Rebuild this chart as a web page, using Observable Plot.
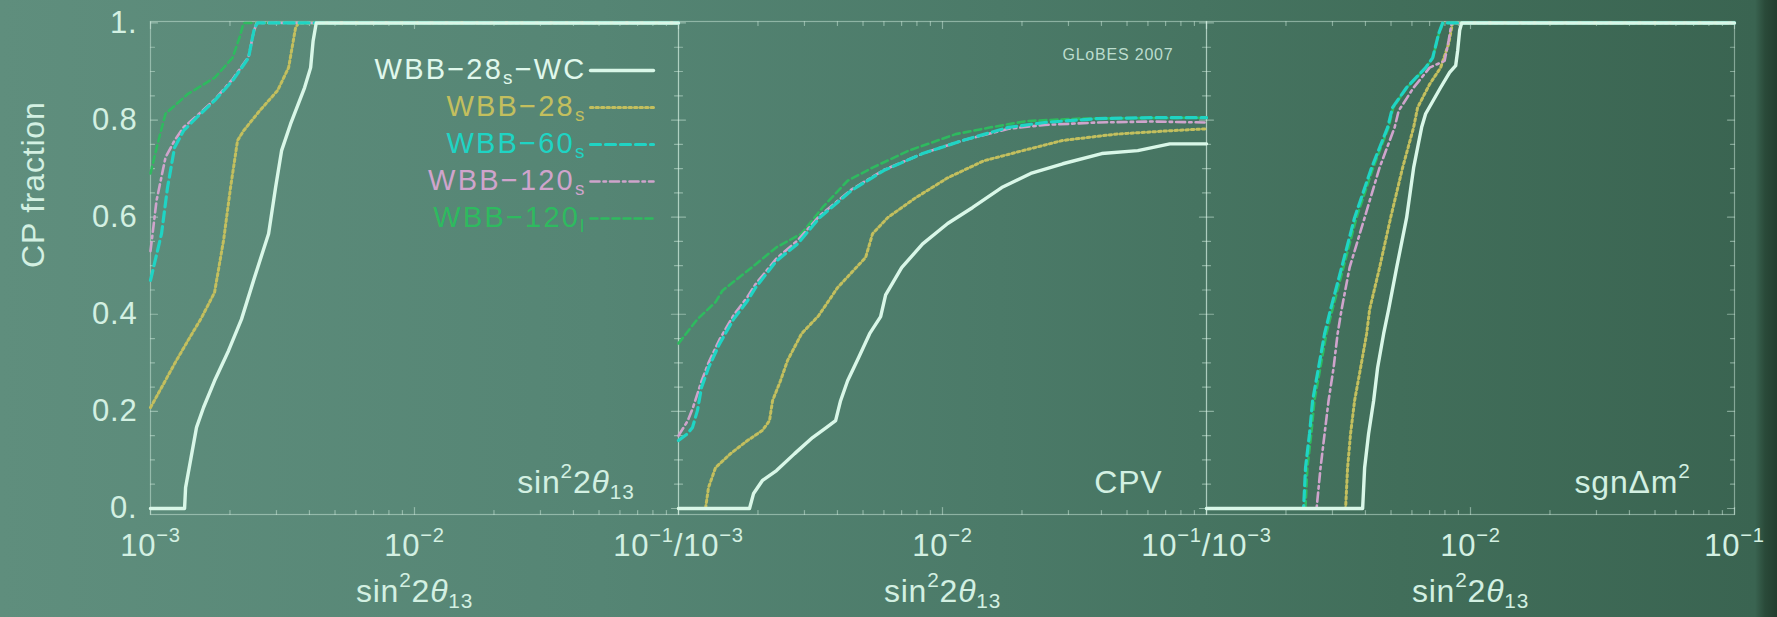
<!DOCTYPE html>
<html>
<head>
<meta charset="utf-8">
<script src="https://cdn.jsdelivr.net/npm/d3@7"></script>
<script src="https://cdn.jsdelivr.net/npm/@observablehq/plot@0.6"></script>
<style>
  html, body { margin: 0; padding: 0; }
  body {
    width: 1777px; height: 617px; overflow: hidden;
    background: linear-gradient(to right, #5f8e7d 0px, #558574 600px, #4b7a68 1000px, #416e5a 1400px, #3a6451 1755px, #2a4a39 1765px, #223d2e 1777px);
  }
</style>
</head>
<body>
<div id="chart"></div>
<script>
// Fraction of the CP phase for which each performance indicator is reached,
// as a function of sin^2 2theta13 (points are [sin^2 2theta13, CP fraction]).

// Panel keys double as the in-panel labels (^{} = superscript, _{} = subscript)
const panels = ["sin^{2}2θ_{13}", "CPV", "sgnΔm^{2}"];

const seriesNames = ["WBB−28_{s}−WC", "WBB−28_{s}", "WBB−60_{s}", "WBB−120_{s}", "WBB−120_{l}"];

// --- sin^2 2theta13 discovery ---
const wc_theta = [[0.001,0],[0.001346,0],[0.001358,0.043],[0.001418,0.099],[0.001494,0.167],[0.001588,0.208],[0.001748,0.263],[0.001975,0.325],[0.002212,0.39],[0.002478,0.476],[0.002801,0.566],[0.002977,0.661],[0.003137,0.737],[0.003393,0.792],[0.003835,0.867],[0.004042,0.908],[0.00413,0.963],[0.004244,1],[0.1,1]];
const s28_theta = [[0.001,0.208],[0.001101,0.249],[0.001233,0.298],[0.001387,0.346],[0.001561,0.393],[0.001748,0.445],[0.001891,0.552],[0.00201,0.661],[0.002137,0.758],[0.002252,0.778],[0.002589,0.819],[0.00303,0.861],[0.003335,0.908],[0.003544,0.99],[0.003639,1],[0.1,1]];
const s60_theta = [[0.001,0.47],[0.001101,0.566],[0.00116,0.661],[0.001233,0.743],[0.001334,0.778],[0.001494,0.805],[0.001748,0.84],[0.002045,0.881],[0.002351,0.928],[0.002434,0.97],[0.002478,0.99],[0.002544,1],[0.1,1]];
const s120_theta = [[0.001,0.53],[0.001054,0.634],[0.00114,0.723],[0.001233,0.758],[0.001334,0.785],[0.001494,0.808],[0.001748,0.842],[0.002045,0.884],[0.002351,0.93],[0.002456,0.98],[0.002523,1],[0.1,1]];
const l120_theta = [[0.001,0.69],[0.001072,0.758],[0.00114,0.813],[0.001387,0.854],[0.001748,0.887],[0.002045,0.928],[0.002174,0.97],[0.002252,1],[0.1,1]];

// --- CP violation ---
const wc_cpv = [[0.001,0],[0.001858,0],[0.001925,0.031],[0.002082,0.058],[0.002351,0.078],[0.002753,0.113],[0.00322,0.146],[0.003639,0.167],[0.003937,0.181],[0.004111,0.222],[0.004371,0.263],[0.004813,0.311],[0.005297,0.36],[0.00583,0.395],[0.00609,0.44],[0.007002,0.496],[0.00841,0.545],[0.010462,0.587],[0.01301,0.62],[0.016758,0.661],[0.021588,0.69],[0.028542,0.71],[0.040114,0.731],[0.054925,0.737],[0.072611,0.751],[0.1,0.751]];
const s28_cpv = [[0.001,0],[0.001266,0],[0.001299,0.043],[0.001381,0.084],[0.001575,0.113],[0.001826,0.14],[0.002082,0.161],[0.002212,0.181],[0.002271,0.222],[0.002434,0.263],[0.002589,0.305],[0.002925,0.36],[0.003393,0.397],[0.004006,0.455],[0.005114,0.517],[0.005436,0.566],[0.006197,0.599],[0.007914,0.64],[0.010462,0.681],[0.014322,0.716],[0.020132,0.737],[0.028542,0.758],[0.045332,0.771],[0.072611,0.778],[0.1,0.782]];
const s60_cpv = [[0.001,0.14],[0.001082,0.154],[0.00113,0.167],[0.00118,0.202],[0.001222,0.249],[0.001299,0.29],[0.00143,0.339],[0.001617,0.39],[0.001826,0.428],[0.001958,0.455],[0.002351,0.51],[0.002825,0.545],[0.003424,0.599],[0.004524,0.655],[0.005984,0.696],[0.00841,0.731],[0.011926,0.758],[0.01781,0.785],[0.024392,0.795],[0.038734,0.803],[0.06207,0.805],[0.1,0.805]];
const s120_cpv = [[0.001,0.15],[0.001082,0.18],[0.00113,0.205],[0.001222,0.262],[0.001299,0.3],[0.00143,0.348],[0.001617,0.398],[0.001826,0.436],[0.001958,0.462],[0.002351,0.515],[0.002825,0.552],[0.003424,0.603],[0.004524,0.657],[0.005984,0.697],[0.00841,0.731],[0.011926,0.758],[0.01781,0.782],[0.024392,0.79],[0.038734,0.795],[0.06207,0.797],[0.1,0.795]];
const l120_cpv = [[0.001,0.34],[0.00118,0.39],[0.001381,0.425],[0.001468,0.449],[0.001891,0.496],[0.002351,0.538],[0.002925,0.566],[0.003513,0.62],[0.004371,0.675],[0.005436,0.702],[0.007443,0.737],[0.011215,0.771],[0.015226,0.785],[0.020845,0.798],[0.033397,0.803],[0.1,0.805]];

// --- mass hierarchy ---
const wc_sgn = [[0.001,0],[0.003903,0],[0.003972,0.084],[0.004111,0.154],[0.004296,0.222],[0.004448,0.29],[0.004688,0.36],[0.004897,0.41],[0.005251,0.496],[0.005729,0.599],[0.00609,0.702],[0.00653,0.785],[0.006762,0.813],[0.007706,0.867],[0.008337,0.898],[0.008787,0.912],[0.008942,0.943],[0.009099,0.985],[0.009257,1],[0.1,1]];
const s28_sgn = [[0.001,0],[0.003364,0],[0.003423,0.084],[0.003513,0.154],[0.003639,0.222],[0.003835,0.29],[0.004042,0.36],[0.004149,0.41],[0.004524,0.496],[0.004983,0.599],[0.005532,0.702],[0.00609,0.785],[0.006306,0.826],[0.007004,0.874],[0.007706,0.908],[0.008265,0.957],[0.008484,0.99],[0.008559,1],[0.1,1]];
const s60_sgn = [[0.001,0],[0.002332,0],[0.002372,0.084],[0.002456,0.154],[0.002523,0.222],[0.002657,0.29],[0.002801,0.36],[0.002951,0.41],[0.003249,0.496],[0.003639,0.599],[0.004222,0.702],[0.004855,0.785],[0.00507,0.826],[0.005729,0.867],[0.006762,0.908],[0.007189,0.928],[0.007574,0.978],[0.007842,1],[0.1,1]];
const s120_sgn = [[0.001,0],[0.002612,0],[0.002704,0.084],[0.002801,0.154],[0.0029,0.222],[0.00303,0.29],[0.003138,0.36],[0.003249,0.41],[0.003483,0.496],[0.003972,0.599],[0.004524,0.702],[0.005161,0.785],[0.005343,0.819],[0.00609,0.867],[0.007004,0.908],[0.00798,0.922],[0.008265,0.964],[0.008484,1],[0.1,1]];
const l120_sgn = [[0.001,0],[0.00237,0],[0.00241,0.084],[0.002495,0.154],[0.002563,0.222],[0.0027,0.29],[0.002846,0.36],[0.003,0.41],[0.0033,0.496],[0.0037,0.599],[0.00428,0.702],[0.0049,0.785],[0.0051,0.826],[0.00575,0.867],[0.00678,0.908],[0.0072,0.928],[0.00759,0.978],[0.00786,1],[0.1,1]];

// Axis ticks and their labels
const yTicks = [0, 0.2, 0.4, 0.6, 0.8, 1];
const yTickLabels = ["0.", "0.2", "0.4", "0.6", "0.8", "1."];
const yMinorTicks = [0.05, 0.1, 0.15, 0.25, 0.3, 0.35, 0.45, 0.5, 0.55, 0.65, 0.7, 0.75, 0.85, 0.9, 0.95];
const xTicks = [0.001, 0.01, 0.1];
const xMinorTicks = [0.002, 0.003, 0.004, 0.005, 0.006, 0.007, 0.008, 0.009, 0.02, 0.03, 0.04, 0.05, 0.06, 0.07, 0.08, 0.09];
const xTickLabels = [
  ["10^{−3}", "10^{−2}", "10^{−1}/10^{−3}"],
  [null, "10^{−2}", "10^{−1}/10^{−3}"],
  [null, "10^{−2}", "10^{−1}"]
];
const xTitle = "sin^{2}2θ_{13}";
const yTitle = "CP fraction";
const stamp = "GLoBES 2007";

// series -> panel curves
const curves = [
  [wc_theta, wc_cpv, wc_sgn],
  [s28_theta, s28_cpv, s28_sgn],
  [s60_theta, s60_cpv, s60_sgn],
  [s120_theta, s120_cpv, s120_sgn],
  [l120_theta, l120_cpv, l120_sgn]
];

const styles = [
  {stroke: "#d9f7e8", strokeWidth: 3.4, strokeDasharray: null},
  {stroke: "#c3bf5e", strokeWidth: 3, strokeDasharray: "2.5,3"},
  {stroke: "#1fd4c4", strokeWidth: 3.2, strokeDasharray: "10,5"},
  {stroke: "#cfa4cc", strokeWidth: 2.6, strokeDasharray: "9,4,2.5,4"},
  {stroke: "#2eba5f", strokeWidth: 2.6, strokeDasharray: "7,4"}
];
const drawOrder = [1, 4, 3, 2, 0];

const rows = curves.flatMap((byPanel, s) =>
  byPanel.flatMap((pts, p) => pts.map(([x, y]) => ({series: s, panel: panels[p], x, y})))
);
const tickLabelRows = xTickLabels.flatMap((labels, p) =>
  labels.map((text, i) => ({panel: panels[p], x: xTicks[i], text})).filter(d => d.text)
);

const font = "'Liberation Sans', Arial, Helvetica, sans-serif";
const ink = "#d3f0e2";
const frameInk = "#cdeadb";

const tickShape = {draw(context, l) { context.moveTo(0, 0); context.lineTo(0, -l); }};
const tickStyle = {stroke: frameInk, strokeOpacity: 0.5, strokeWidth: 1.2, anchor: "start", shape: tickShape};
const first = () => panels[0];

const marks = [
  Plot.frame({stroke: frameInk, strokeOpacity: 0.5, strokeWidth: 1.2}),
  // inward frame ticks on all four sides
  Plot.vector(xTicks, {x: d => d, frameAnchor: "bottom", rotate: 0, length: 7, ...tickStyle}),
  Plot.vector(xMinorTicks, {x: d => d, frameAnchor: "bottom", rotate: 0, length: 4, ...tickStyle}),
  Plot.vector(xTicks, {x: d => d, frameAnchor: "top", rotate: 180, length: 7, ...tickStyle}),
  Plot.vector(xMinorTicks, {x: d => d, frameAnchor: "top", rotate: 180, length: 4, ...tickStyle}),
  Plot.vector(yTicks, {y: d => d, frameAnchor: "left", rotate: 90, length: 7, ...tickStyle}),
  Plot.vector(yMinorTicks, {y: d => d, frameAnchor: "left", rotate: 90, length: 4, ...tickStyle}),
  Plot.vector(yTicks, {y: d => d, frameAnchor: "right", rotate: -90, length: 7, ...tickStyle}),
  Plot.vector(yMinorTicks, {y: d => d, frameAnchor: "right", rotate: -90, length: 4, ...tickStyle}),

  // curves
  ...drawOrder.map(s => Plot.line(rows.filter(d => d.series === s), {
    x: "x", y: "y", fx: "panel", ...styles[s], strokeLinejoin: "round"
  })),

  // tick labels
  Plot.text(yTicks, {fx: first, y: d => d, text: (d, i) => yTickLabels[i], frameAnchor: "left", dx: -13,
    textAnchor: "end", fontSize: 31, fill: ink}),
  Plot.text(tickLabelRows, {fx: "panel", x: "x", text: "text", frameAnchor: "bottom", dy: 41,
    lineAnchor: "bottom", fontSize: 31, fill: ink}),

  // axis titles
  Plot.text(panels, {fx: d => d, text: () => xTitle, frameAnchor: "bottom", dy: 87, lineAnchor: "bottom",
    fontSize: 32, fill: ink}),
  Plot.text([yTitle], {fx: first, text: d => d, frameAnchor: "left", dx: -117, rotate: -90,
    fontSize: 32, fill: ink}),

  // in-panel labels
  Plot.text(panels, {fx: d => d, text: d => d, frameAnchor: "bottom-right", dx: -44, dy: -22,
    textAnchor: "end", lineAnchor: "bottom", fontSize: 32, fill: ink}),
  Plot.text([stamp], {fx: () => panels[1], text: d => d, frameAnchor: "top-right", dx: -33, dy: 27,
    textAnchor: "end", fontSize: 16, fill: ink, fillOpacity: 0.85}),

  // legend
  ...seriesNames.flatMap((name, s) => [
    Plot.text([name], {fx: first, text: d => d, frameAnchor: "top-right", dx: -92, dy: 57 + 37 * s,
      textAnchor: "end", lineAnchor: "bottom", fontSize: 29, fill: s === 0 ? "#e0f8ec" : styles[s].stroke}),
    Plot.vector([name], {fx: first, frameAnchor: "top-right", dx: -88, dy: 49 + 37 * s, rotate: 90,
      length: 63, anchor: "start", shape: tickShape, ...styles[s]})
  ])
];

const svg = Plot.plot({
  width: 1777,
  height: 617,
  marginLeft: 150,
  marginRight: 43,
  marginTop: 21,
  marginBottom: 103,
  style: {background: "none", fontFamily: font, letterSpacing: "0.8px", overflow: "visible"},
  fx: {domain: panels, padding: 0, axis: null},
  x: {type: "log", domain: [0.001, 0.1], axis: null},
  y: {domain: [-0.0124, 1.003], axis: null},
  marks
});

// Turn ^{..} / _{..} markup into raised / lowered tspans, theta in italics
function richText(el, src) {
  el.textContent = "";
  const re = /([\^_])\{([^}]*)\}|θ|[^\^_θ]+/g;
  let shift = 0, m;
  while ((m = re.exec(src))) {
    const t = document.createElementNS("http://www.w3.org/2000/svg", "tspan");
    let target = 0, k = 1;
    if (m[1] === "^") { target = -0.45; k = 0.65; t.textContent = m[2]; }
    else if (m[1] === "_") { target = 0.2; k = 0.65; t.textContent = m[2]; }
    else {
      t.textContent = m[0];
      if (m[0] === "θ") t.setAttribute("font-style", "italic");
    }
    if (k !== 1) t.setAttribute("font-size", (k * 100) + "%");
    const d = target - shift;
    if (d) t.setAttribute("dy", (d / k).toFixed(3) + "em");
    shift = target;
    el.appendChild(t);
  }
}
d3.select(svg).selectAll("text").each(function () {
  const s = this.textContent;
  if (seriesNames.includes(s)) this.setAttribute("letter-spacing", "2.2px");
  if (/[\^_θ]/.test(s)) richText(this, s);
});

document.getElementById("chart").appendChild(svg);
</script>
</body>
</html>
